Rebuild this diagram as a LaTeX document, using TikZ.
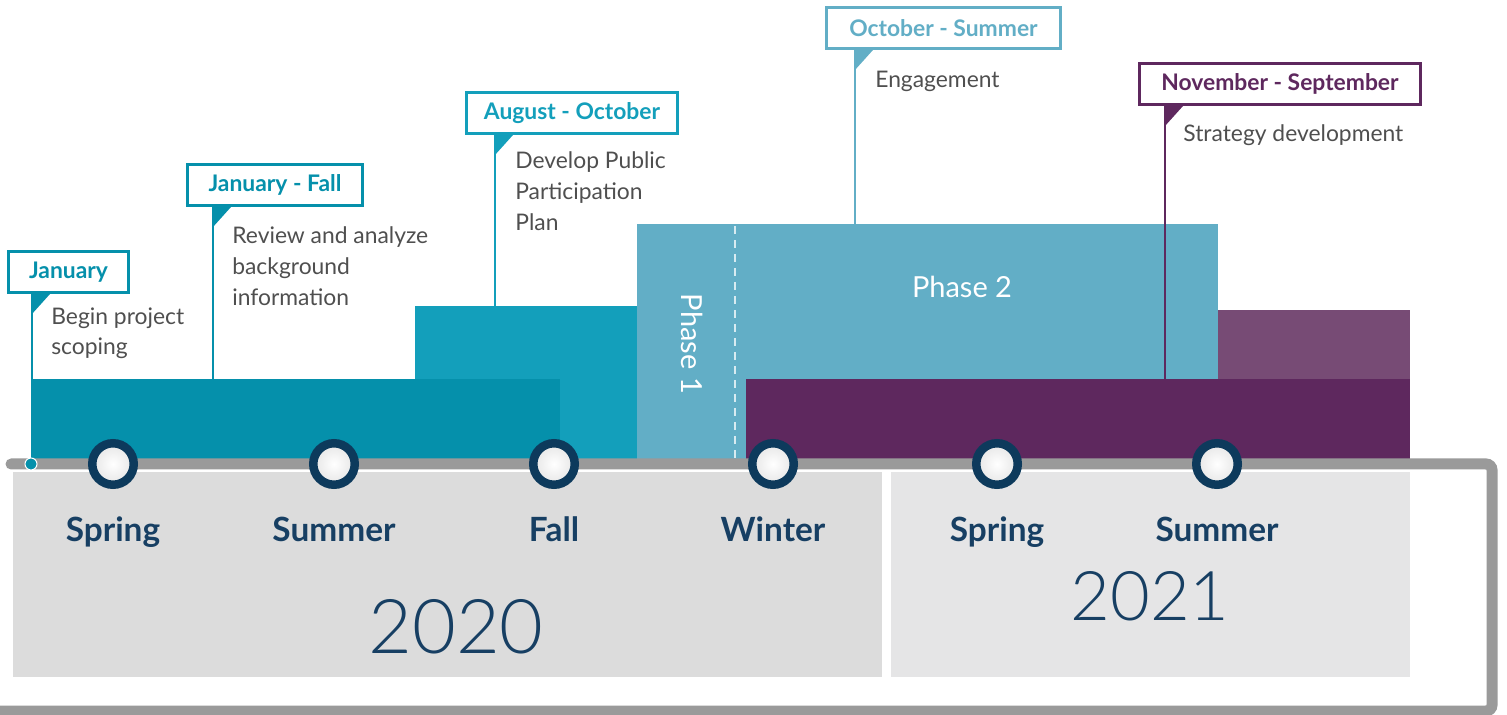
\documentclass[tikz,border=0pt]{standalone}
\usepackage{fontspec}
\setmainfont{Lato}
\IfFontExistsTF{Lato Light}{\newfontfamily\yearfont{Lato Light}}{\newfontfamily\yearfont{Lato}}
\usetikzlibrary{positioning}

\definecolor{tealA}{HTML}{0590AB}
\definecolor{tealB}{HTML}{139FBB}
\definecolor{phaseblue}{HTML}{62AEC6}
\definecolor{plum}{HTML}{5E285E}
\definecolor{plumlight}{HTML}{774B75}
\definecolor{navy}{HTML}{0D3A5C}
\definecolor{navytext}{HTML}{173F63}
\definecolor{railgray}{HTML}{9A9A9A}
\definecolor{panelA}{HTML}{DCDCDC}
\definecolor{panelB}{HTML}{E5E5E6}
\definecolor{copytext}{HTML}{4F4F4F}

\begin{document}
\begin{tikzpicture}[x=0.02cm,y=-0.02cm,
  flagbox/.style={draw=#1,line width=0.06cm,fill=white,text=#1,anchor=north west,
    minimum height=0.82cm,inner sep=0pt,font=\fontsize{13}{16}\selectfont\bfseries},
  flagpole/.style={draw=#1,line width=0.05cm},
  flagnote/.style={anchor=north west,align=left,inner sep=0pt,text=copytext,
    font=\fontsize{13}{17.6}\selectfont},
  stopdot/.style={circle,draw=navy,line width=0.17cm,minimum size=0.83cm,inner sep=0pt,
    inner color=white,outer color=black!10},
  seasonlbl/.style={inner sep=0pt,text=navytext,font=\fontsize{19}{22}\selectfont\bfseries},
  yearlbl/.style={inner sep=0pt,text=navytext,font=\fontsize{43}{48}\yearfont},
  phaselbl/.style={inner sep=0pt,text=white,font=\fontsize{16.5}{19}\selectfont}]
\useasboundingbox (0,0) rectangle (1507,715);

% grey year panels
\fill[panelA] (13,472) rectangle (882,677);
\fill[panelB] (891,472) rectangle (1410,677);

% work bars
\fill[tealB] (415,306) rectangle (637,459);
\fill[tealA] (31,379) rectangle (560,459);
\fill[phaseblue] (637,224) rectangle (1218,459);
\fill[plumlight] (1218,310) rectangle (1410,379);
\fill[plum] (746,379) rectangle (1410,459);
\draw[white!75!phaseblue,line width=0.03cm,dash pattern=on 0.16cm off 0.12cm] (735,226) -- (735,459);
\node[phaselbl,rotate=-90] (ph1) at (692,344) {Phase 1};
\node[phaselbl] (ph2) at (962,287) {Phase 2};

% rail
\draw[railgray,line width=0.22cm,line cap=round,rounded corners=0.12cm]
  (11,464) -- (1492,464) -- (1492,711) -- (-20,711);
\node[circle,fill=tealA,draw=white,line width=0.02cm,minimum size=0.24cm,inner sep=0pt] (start) at (31,464) {};

% seasons
\node[stopdot] (s1) at (113,464) {};
\node[stopdot] (s2) at (334,464) {};
\node[stopdot] (s3) at (554,464) {};
\node[stopdot] (s4) at (773,464) {};
\node[stopdot] (s5) at (997,464) {};
\node[stopdot] (s6) at (1217,464) {};
\node[seasonlbl,below=0.55cm of s1] (l1) {Spring};
\node[seasonlbl,below=0.55cm of s2] (l2) {Summer};
\node[seasonlbl,below=0.55cm of s3] (l3) {Fall};
\node[seasonlbl,below=0.55cm of s4] (l4) {Winter};
\node[seasonlbl,below=0.55cm of s5] (l5) {Spring};
\node[seasonlbl,below=0.55cm of s6] (l6) {Summer};
\node[yearlbl] (y20) at (456,627) {2020};
\node[yearlbl,font=\fontsize{39}{44}\yearfont] (y21) at (1150,596) {2021};

% flags
\node[flagbox=tealA,minimum width=2.40cm] (jan) at (7,250) {January};
\node[flagbox=tealA,minimum width=3.50cm] (janfall) at (186,163) {January - Fall};
\node[flagbox=tealB,minimum width=4.22cm] (augoct) at (465,91) {August - October};
\node[flagbox=phaseblue,minimum width=4.68cm] (octsum) at (825,6) {October - Summer};
\node[flagbox=plum,minimum width=5.62cm] (novsep) at (1138,62) {November - September};

\coordinate (janfoot) at (32,379);
\coordinate (janfallfoot) at (213,379);
\coordinate (augoctfoot) at (495,306);
\coordinate (octsumfoot) at (855,224);
\coordinate (novsepfoot) at (1165,379);

\draw[flagpole=tealA] (janfoot |- jan.south) -- (janfoot);
\draw[flagpole=tealA] (janfallfoot |- janfall.south) -- (janfallfoot);
\draw[flagpole=tealB] (augoctfoot |- augoct.south) -- (augoctfoot);
\draw[flagpole=phaseblue] (octsumfoot |- octsum.south) -- (octsumfoot);
\draw[flagpole=plum] (novsepfoot |- novsep.south) -- (novsepfoot);

\fill[tealA] (janfoot |- jan.south) -- ++(18,0) -- ++(-18,20) -- cycle;
\fill[tealA] (janfallfoot |- janfall.south) -- ++(18,0) -- ++(-18,20) -- cycle;
\fill[tealB] (augoctfoot |- augoct.south) -- ++(18,0) -- ++(-18,20) -- cycle;
\fill[phaseblue] (octsumfoot |- octsum.south) -- ++(18,0) -- ++(-18,20) -- cycle;
\fill[plum] (novsepfoot |- novsep.south) -- ++(18,0) -- ++(-18,20) -- cycle;

\node[flagnote] (jannote) at (51,307) {Begin project\\scoping};
\node[flagnote] (janfallnote) at (232,226) {Review and analyze\\background\\information};
\node[flagnote] (augoctnote) at (515,151) {Develop Public\\Participation\\Plan};
\node[flagnote] (octsumnote) at (875,71) {Engagement};
\node[flagnote] (novsepnote) at (1183,124) {Strategy development};
\end{tikzpicture}
\end{document}
